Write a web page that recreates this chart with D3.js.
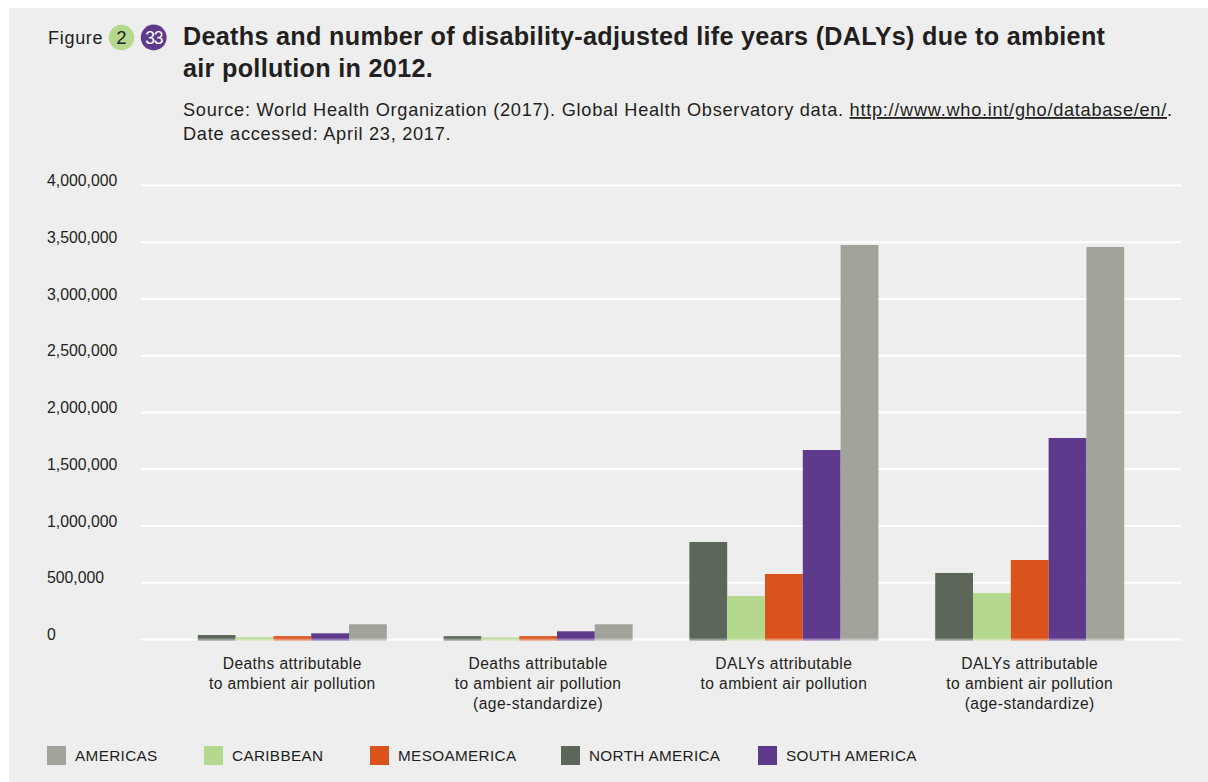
<!DOCTYPE html>
<html>
<head>
<meta charset="utf-8">
<script src="https://cdn.jsdelivr.net/npm/d3@7"></script>
<style>
  html, body { margin: 0; padding: 0; background: #ffffff; }
  svg { display: block; font-family: "Liberation Sans", Arial, Helvetica, sans-serif; }
</style>
</head>
<body>
<svg id="chart" width="1208" height="782"></svg>
<script>
// ---- data ----
const categories = [
  ["Deaths attributable", "to ambient air pollution"],
  ["Deaths attributable", "to ambient air pollution", "(age-standardize)"],
  ["DALYs attributable", "to ambient air pollution"],
  ["DALYs attributable", "to ambient air pollution", "(age-standardize)"]
];
const barOrder = ["NORTH AMERICA", "CARIBBEAN", "MESOAMERICA", "SOUTH AMERICA", "AMERICAS"];
const legendOrder = ["AMERICAS", "CARIBBEAN", "MESOAMERICA", "NORTH AMERICA", "SOUTH AMERICA"];
const northAmerica = [35000, 25000, 855000, 582000];
const caribbean    = [15000, 13000, 379000, 405000];
const mesoamerica  = [25000, 25000, 573000, 696000];
const southAmerica = [50000, 68000, 1665000, 1771000];
const americas     = [130000, 130000, 3471000, 3454000];
const yTicks = [0, 500000, 1000000, 1500000, 2000000, 2500000, 3000000, 3500000, 4000000];

const seriesValues = {
  "NORTH AMERICA": northAmerica,
  "CARIBBEAN": caribbean,
  "MESOAMERICA": mesoamerica,
  "SOUTH AMERICA": southAmerica,
  "AMERICAS": americas
};
const colors = {
  "AMERICAS": "#a1a39b",
  "CARIBBEAN": "#b4d88d",
  "MESOAMERICA": "#da521c",
  "NORTH AMERICA": "#5c675a",
  "SOUTH AMERICA": "#5e3a8c"
};

const svg = d3.select("#chart");
const textColor = "#231f20";

// widen a text (Helvetica Neue look) by adding letter spacing
function stretch(node, factor) {
  const len = node.getComputedTextLength();
  const n = node.textContent.length;
  if (n > 1) d3.select(node).attr("letter-spacing", ((factor - 1) * len / (n - 1)).toFixed(3));
}

// background panel
svg.append("rect").attr("x", 9).attr("y", 8).attr("width", 1199).attr("height", 774).attr("fill", "#eeeeee");

// ---- header ----
const fig = svg.append("text").attr("x", 48).attr("y", 44).attr("font-size", 18).attr("fill", textColor).text("Figure");
stretch(fig.node(), 1.07);
svg.append("circle").attr("cx", 121.5).attr("cy", 37.5).attr("r", 12.7).attr("fill", "#b4d88d");
svg.append("text").attr("x", 121.5).attr("y", 44).attr("text-anchor", "middle").attr("font-size", 18.5).attr("fill", textColor).text("2");
svg.append("circle").attr("cx", 153.7).attr("cy", 37.5).attr("r", 12.9).attr("fill", "#5e3a8c");
svg.append("text").attr("x", 153.7).attr("y", 44).attr("text-anchor", "middle").attr("font-size", 17.5).attr("letter-spacing", -1.2).attr("fill", "#ffffff").text("33");

const title = svg.append("text").attr("font-size", 25.2).attr("font-weight", "bold").attr("fill", textColor);
const t1 = title.append("tspan").attr("x", 183).attr("y", 45).text("Deaths and number of disability-adjusted life years (DALYs) due to ambient");
title.append("tspan").attr("x", 183).attr("y", 77).text("air pollution in 2012.");
{
  const len = t1.node().getComputedTextLength();
  const n = t1.node().textContent.length;
  title.attr("letter-spacing", ((922 - len) / (n - 1)).toFixed(3));
}

const src = svg.append("text").attr("font-size", 18.2).attr("fill", textColor);
const l1 = src.append("tspan").attr("x", 183).attr("y", 116);
l1.append("tspan").text("Source: World Health Organization (2017). Global Health Observatory data. ");
l1.append("tspan").attr("text-decoration", "underline").text("http://www.who.int/gho/database/en/");
l1.append("tspan").text(".");
src.append("tspan").attr("x", 183).attr("y", 140).text("Date accessed: April 23, 2017.");
{
  const len = l1.node().getComputedTextLength();
  const n = l1.node().textContent.length;
  src.attr("letter-spacing", ((989 - len) / (n - 1)).toFixed(3));
}

// ---- scales ----
const y = d3.scaleLinear().domain([0, 4000000]).range([639, 185]);
const x0 = d3.scaleBand().domain(d3.range(categories.length)).range([141, 1181]).padding(0.231);
const x1 = d3.scaleBand().domain(barOrder).range([0, x0.bandwidth()]);

// gridlines
const grid = svg.append("g");
grid.selectAll("line").data(yTicks).join("line")
  .attr("x1", 141).attr("x2", 1181)
  .attr("y1", d => y(d) + 0.5).attr("y2", d => y(d) + 0.5)
  .attr("stroke", "#ffffff").attr("stroke-width", 2);

// y axis labels
const yAxis = d3.axisLeft(y).tickValues(yTicks).tickFormat(d3.format(",")).tickSize(0);
const ya = svg.append("g").attr("transform", "translate(47,0)").call(yAxis);
ya.select(".domain").remove();
ya.selectAll("text")
  .attr("text-anchor", "start").attr("x", 0).attr("dy", "0.32em")
  .attr("transform", "translate(0,-4.5)")
  .attr("font-size", 15.8).attr("font-family", "Liberation Sans, Arial, sans-serif").attr("fill", textColor);

// bars
const groups = svg.append("g").selectAll("g").data(categories.map((c, i) => i)).join("g")
  .attr("transform", i => `translate(${x0(i)},0)`);
groups.selectAll("rect").data(i => barOrder.map(s => ({ s, v: seriesValues[s][i] }))).join("rect")
  .attr("x", d => x1(d.s)).attr("width", x1.bandwidth())
  .attr("y", d => y(d.v)).attr("height", d => y(0) - y(d.v) + 1.5)
  .attr("fill", d => colors[d.s]);

// baseline overlay (translucent over bars)
svg.append("line").attr("x1", 141).attr("x2", 1181).attr("y1", y(0) + 0.5).attr("y2", y(0) + 0.5)
  .attr("stroke", "#ffffff").attr("stroke-opacity", 0.35).attr("stroke-width", 2);

// category labels
const catG = svg.append("g");
categories.forEach((lines, i) => {
  const t = catG.append("text").attr("text-anchor", "middle").attr("font-size", 15.6).attr("fill", textColor);
  lines.forEach((ln, j) => {
    const ts = t.append("tspan").attr("x", x0(i) + x0.bandwidth() / 2).attr("y", 669 + j * 20).text(ln);
    stretch(ts.node(), 1.06);
  });
});

// legend (item x positions as laid out in the original)
const legendX = [47, 204, 370, 561, 758];
const leg = svg.append("g");
legendOrder.forEach((s, i) => {
  const lx = legendX[i];
  leg.append("rect").attr("x", lx).attr("y", 746).attr("width", 19).attr("height", 19).attr("fill", colors[s]);
  const t = leg.append("text").attr("x", lx + 28).attr("y", 761).attr("font-size", 15.3).attr("fill", textColor).text(s);
  stretch(t.node(), 1.03);
});
</script>
</body>
</html>
